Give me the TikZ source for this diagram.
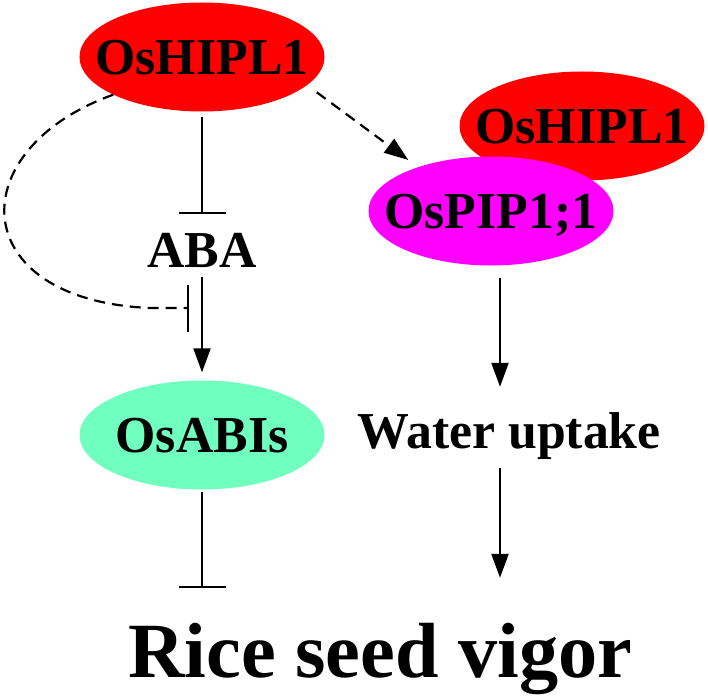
\documentclass[tikz,border=0pt]{standalone}
\usepackage{fontspec}
\setmainfont{Liberation Serif}
\usetikzlibrary{shapes.geometric,arrows.meta}
\definecolor{hiplred}{RGB}{255,0,0}
\definecolor{pipmagenta}{RGB}{255,0,255}
\definecolor{abimint}{RGB}{112,255,190}
\begin{document}
\begin{tikzpicture}[x=1bp, y=-1bp,
		gene/.style={ellipse, inner sep=0pt, minimum width=245bp, minimum height=109bp,
			text height=35bp, text depth=0pt, font=\fontsize{52}{52}\selectfont\bfseries},
		term/.style={inner sep=0pt, text height=35bp, text depth=0pt,
			font=\fontsize{52}{52}\selectfont\bfseries},
		link/.style={black, line width=2.2bp},
		act/.style={link, -{Triangle[length=24bp, width=17bp]}},
		inh/.style={link, -{Bar[width=47bp]}},
		dashedlink/.style={dash pattern=on 11bp off 7bp}]
		\useasboundingbox (0, 0) rectangle (708, 696);
		% nodes
		\node[gene, fill=hiplred] (hipl) at (202, 57) {\makebox[0pt]{OsHIPL1}};
		\node[term] (aba) at (202, 250) {ABA};
		\node[gene, fill=abimint] (abis) at (202, 435) {\makebox[0pt]{OsABIs}};
		\node[gene, fill=hiplred] (hipltwo) at (582, 126) {\makebox[0pt]{OsHIPL1}};
		\node[gene, fill=pipmagenta] (pip) at (491, 211) {\makebox[0pt]{OsPIP1;1}};
		\node[term] (water) at (509, 430.5) {Water uptake};
		\node[term, text height=55bp, font=\fontsize{78.5}{78.5}\selectfont\bfseries] (vigor) at (380, 649.5) {Rice seed vigor};
		\coordinate (blk) at (189, 308);
		\coordinate (wcol) at ([xshift=9bp]pip.south);
		% left branch
		\draw[inh, shorten <=5bp, shorten >=18bp] (hipl.south) -- (aba.north);
		\draw[act, shorten <=9bp, shorten >=8bp] (aba.south) -- (abis.north);
		\draw[inh, dashedlink] (hipl.203) .. controls (-40, 150) and (-35, 300) .. (150, 308) -- (blk);
		\draw[inh, shorten <=2bp, shorten >=34bp] (abis.south) -- (abis.south |- vigor.north);
		% right branch
		\draw[act, dashedlink, shorten <=12bp, shorten >=12bp] (hipl.-15) -- (pip.149);
		\draw[act, shorten <=12bp, shorten >=26bp] (wcol) -- (wcol |- water.north);
		\draw[act, shorten <=20bp, shorten >=44bp] (wcol |- water.south) -- (wcol |- vigor.north);
	\end{tikzpicture}
\end{document}
